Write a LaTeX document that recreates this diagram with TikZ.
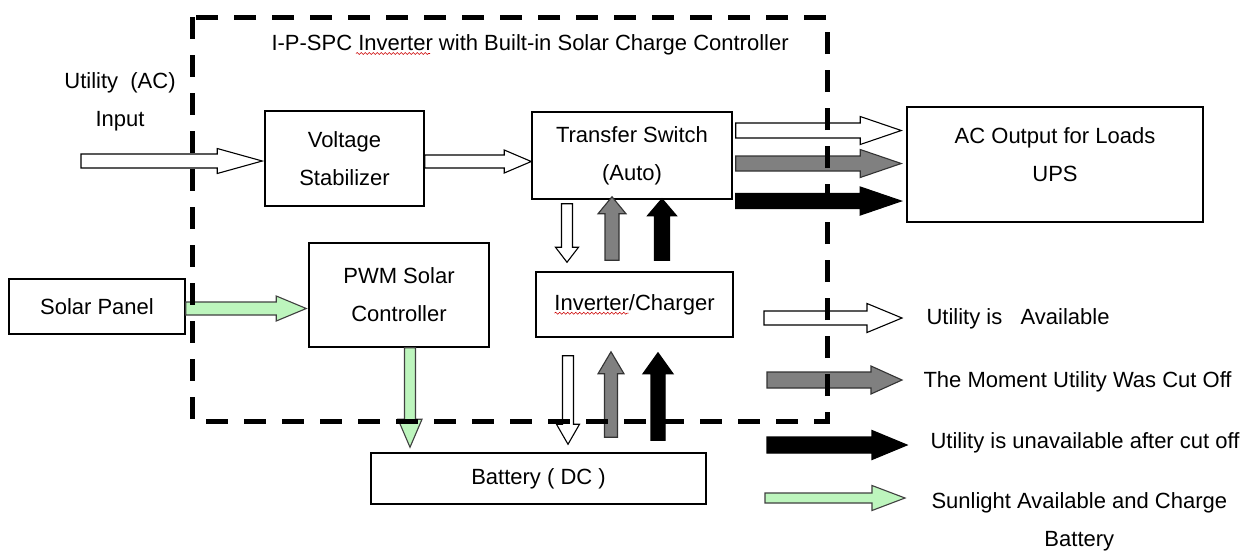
\documentclass[tikz,border=0pt]{standalone}
\usepackage{fontspec}
\setmainfont{Liberation Sans}
\usetikzlibrary{calc,decorations.pathmorphing}
\definecolor{sungreen}{HTML}{BDF5BD}
\definecolor{cutgray}{HTML}{808080}

% block arrow: [sizes]{style}{tail}{tip}
\tikzset{shaftw/.store in=\fsw,headw/.store in=\fhw,headl/.store in=\fhl,
 shaftw=7pt,headw=14pt,headl=35pt}
\newcommand{\fatarrow}[4][]{%
 \begin{scope}[#1]
 \coordinate (fh) at ($(#4)!\fhl!(#3)$);
 \path[#2] ($(#3)!\fsw!90:(#4)$) -- ($(fh)!\fsw!-90:(#3)$) -- ($(fh)!\fhw!-90:(#3)$) -- (#4)
  -- ($(fh)!\fhw!90:(#3)$) -- ($(fh)!\fsw!90:(#3)$) -- ($(#3)!\fsw!-90:(#4)$) -- cycle;
 \end{scope}}

\begin{document}
\begin{tikzpicture}[x=1pt,y=-1pt,font=\fontsize{22}{38}\selectfont,
 box/.style={draw,line width=1.5pt,inner sep=0pt,align=center},
 wht/.style={draw=black,fill=white,line width=1.1pt},
 gry/.style={draw=black!80,fill=cutgray,line width=1.1pt},
 blk/.style={draw=black,fill=black,line width=1.1pt},
 grn/.style={draw=black!75,fill=sungreen,line width=1.1pt},
 frame/.style={line width=5pt,dash pattern=on 22pt off 16pt},
 squig/.style={red!80!black,line width=0.6pt,decorate,decoration={snake,segment length=4pt,amplitude=1pt}}]
\path[fill=white,use as bounding box] (0,0) rectangle (1245,550);

% blocks
\node[box,minimum width=159pt,minimum height=95pt] (stab) at (344.5,158.5) {Voltage\\Stabilizer};
\node[box,minimum width=200pt,minimum height=87pt] (ts) at (632,155.5) {Transfer Switch\\(Auto)};
\node[box,minimum width=296pt,minimum height=115pt,
 label={[align=center,yshift=10pt]center:AC Output for Loads\\UPS}] (acout) at (1055,164.5) {};
\node[box,minimum width=176pt,minimum height=55pt] (panel) at (97,306.5) {Solar Panel};
\node[box,minimum width=180pt,minimum height=104pt] (pwm) at (399,295) {PWM Solar\\Controller};
\node[box,minimum width=197pt,minimum height=65pt] (inv) at (634.5,304.5) {Inverter/Charger};
\node[box,minimum width=335pt,minimum height=51pt] (batt) at (538.5,478.5) {Battery ( DC )};

% free texts
\node[anchor=base west] (title) at (268,50) {I-P-SPC Inverter with Built-in Solar Charge Controller};
\node[align=center] (acin) at (120,102) {Utility\ \ (AC)\\Input};
\draw[squig] ($(title.base west)+(88,3.5)$) -- ($(title.base west)+(162,3.5)$);
\draw[squig] ($(inv.base)+(-80,3)$) -- ($(inv.base)+(-6,3)$);

% utility in
\coordinate (acsrc) at (81,161);
\coordinate (acdst) at ($(stab.west |- acsrc)+(-2,0)$);
\fatarrow[shaftw=7pt,headw=12.5pt,headl=45pt]{wht}{acsrc}{acdst}
\coordinate (s1) at ($(stab.east)+(0,3)$);
\coordinate (s2) at (ts.west |- s1);
\fatarrow[shaftw=6.5pt,headw=11.5pt,headl=27pt]{wht}{s1}{s2}

% outputs to loads
\foreach \dy/\st [count=\i] in {-25/wht,8/gry,45.5/blk}{
 \coordinate (o\i a) at ($(ts.east)+(3,\dy)$);
 \coordinate (o\i b) at ($(acout.west |- o\i a)+(-5,0)$);
 \fatarrow[shaftw=7.5pt,headw=14pt,headl=41pt]{\st}{o\i a}{o\i b}
}

% switch <-> inverter
\coordinate (d1a) at ($(ts.south)+(-65,4)$);
\coordinate (d1b) at ($(inv.north)+(-67.5,-9)$);
\fatarrow[shaftw=5.5pt,headw=11.5pt,headl=15pt]{wht}{d1a}{d1b}
\coordinate (u1a) at ($(inv.north)+(-22.5,-11)$);
\coordinate (u1b) at ($(ts.south)+(-20,-3)$);
\fatarrow[shaftw=7pt,headw=14pt,headl=17pt]{gry}{u1a}{u1b}
\coordinate (u2a) at ($(inv.north)+(27.5,-11)$);
\coordinate (u2b) at ($(ts.south)+(30,-1)$);
\fatarrow[shaftw=7.5pt,headw=14.5pt,headl=17pt]{blk}{u2a}{u2b}

% inverter <-> battery
\coordinate (d2a) at ($(inv.south)+(-66.5,18)$);
\coordinate (d2b) at ($(batt.north)+(29.5,-8)$);
\fatarrow[shaftw=5.5pt,headw=11.5pt,headl=20pt]{wht}{d2a}{d2b}
\coordinate (u3a) at ($(batt.north)+(72.5,-15)$);
\coordinate (u3b) at ($(inv.south)+(-23.5,14)$);
\fatarrow[shaftw=6.5pt,headw=13pt,headl=22pt]{gry}{u3a}{u3b}
\coordinate (u4a) at ($(batt.north)+(119.5,-12)$);
\coordinate (u4b) at ($(inv.south)+(23.5,15)$);
\fatarrow[shaftw=7pt,headw=15pt,headl=21pt]{blk}{u4a}{u4b}

% solar
\coordinate (g1a) at ($(panel.east)+(0,2)$);
\coordinate (g1b) at ($(pwm.west |- g1a)+(-2,0)$);
\fatarrow[shaftw=6.5pt,headw=12.5pt,headl=30pt]{grn}{g1a}{g1b}
\coordinate (g2a) at ($(pwm.south)+(11,0)$);
\coordinate (g2b) at ($(batt.north)+(-128.5,-5)$);
\fatarrow[shaftw=5.5pt,headw=12pt,headl=28pt]{grn}{g2a}{g2b}

% legend
\coordinate (k1a) at (764,318); \coordinate (k1b) at (902,318);
\fatarrow[shaftw=7pt,headw=14.5pt,headl=35pt]{wht}{k1a}{k1b}
\coordinate (k2a) at (767,380); \coordinate (k2b) at (902,380);
\fatarrow[shaftw=8pt,headw=14pt,headl=31pt]{gry}{k2a}{k2b}
\coordinate (k3a) at (767,445); \coordinate (k3b) at (907,445);
\fatarrow[shaftw=8pt,headw=14.5pt,headl=35pt]{blk}{k3a}{k3b}
\coordinate (k4a) at (765,498); \coordinate (k4b) at (905,498);
\fatarrow[shaftw=5pt,headw=12.5pt,headl=33pt]{grn}{k4a}{k4b}
\node[anchor=base west] (lg1) at (923,324) {Utility is\ \ \ Available};
\node[anchor=base west] (lg2) at (920,387) {The Moment Utility Was Cut Off};
\node[anchor=base west] (lg3) at (927,448) {Utility is unavailable after cut off};
\node[anchor=base west,align=center] (lg4) at (928,546) {Sunlight Available and Charge\\Battery};

% inverter housing
\draw[frame] (192,17) rectangle (827,421);
\end{tikzpicture}
\end{document}
